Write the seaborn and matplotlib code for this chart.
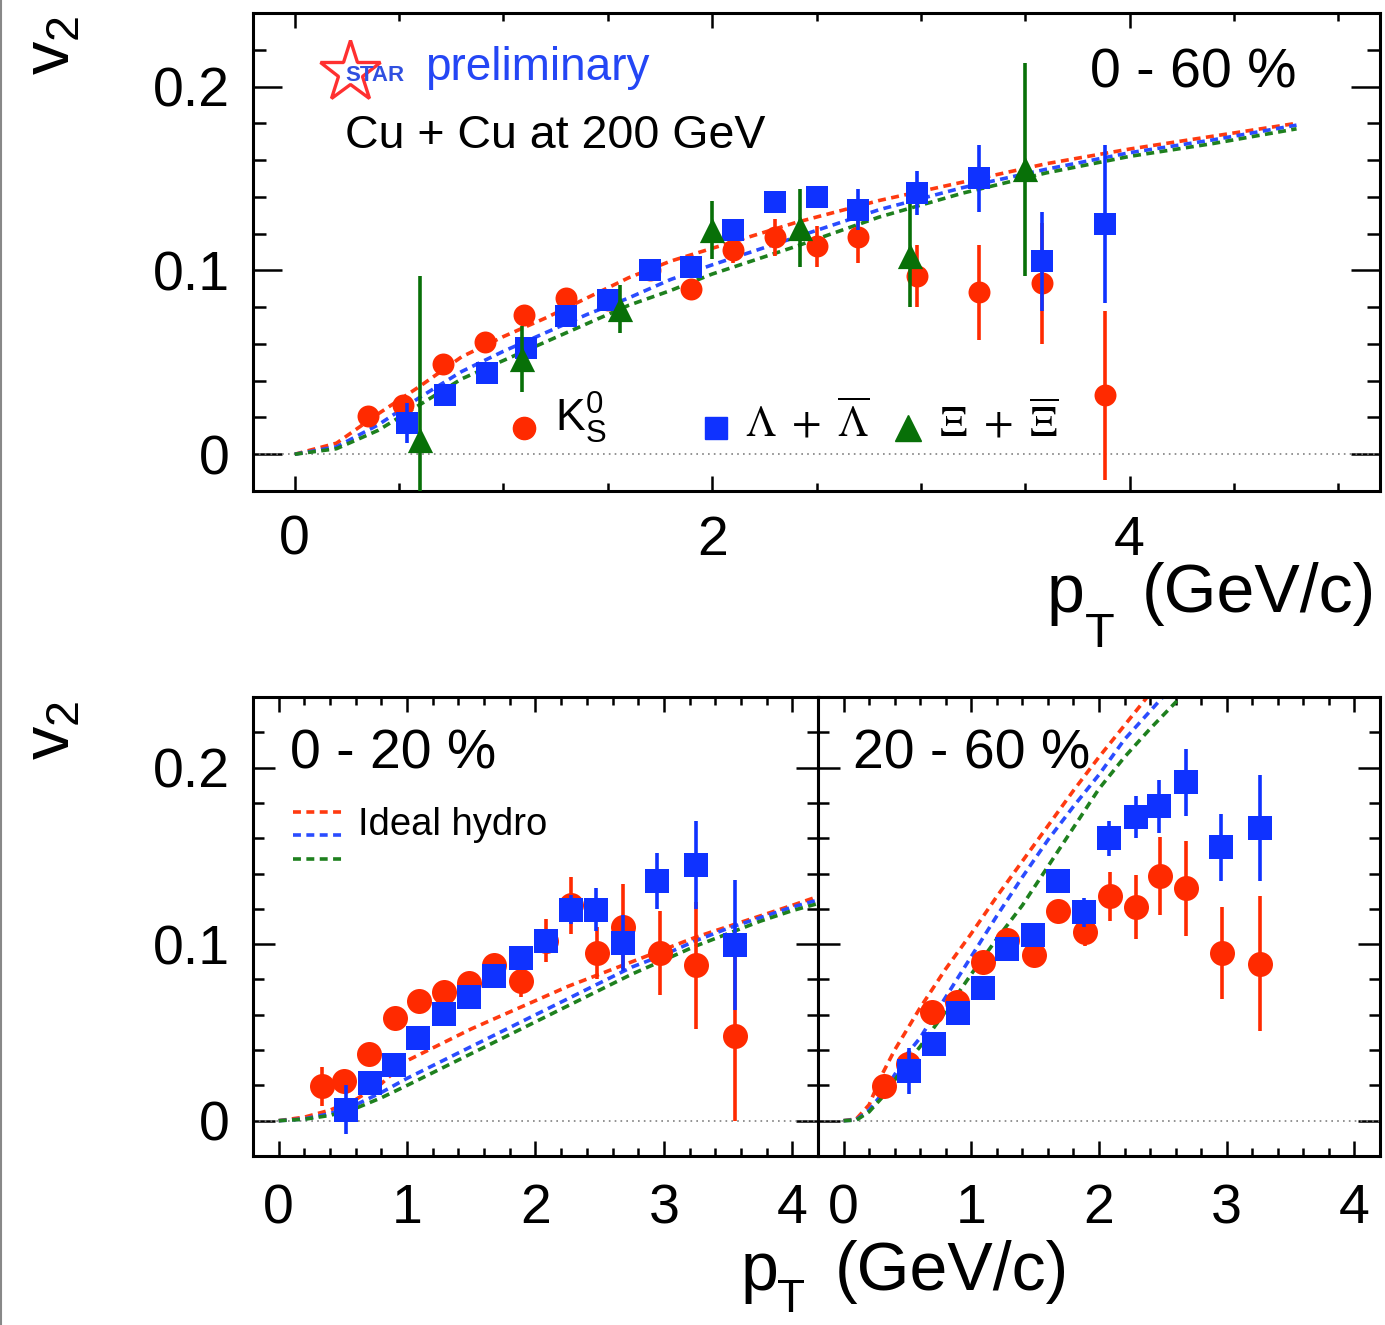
import matplotlib
matplotlib.use("Agg")
import matplotlib.pyplot as plt
import seaborn as sns
from matplotlib.ticker import MultipleLocator, FuncFormatter
from matplotlib.lines import Line2D

# ---------------- data: 0-60 % (top panel) ----------------
k0_pt_mb = [0.35, 0.52, 0.71, 0.91, 1.10, 1.30, 1.50, 1.70, 1.90, 2.10, 2.30, 2.50, 2.70, 2.98, 3.28, 3.58, 3.88]
k0_v2_mb = [0.021, 0.027, 0.049, 0.061, 0.076, 0.085, 0.084, 0.100, 0.090, 0.111, 0.118, 0.113, 0.118, 0.097, 0.088, 0.093, 0.032]
k0_err_mb = [0.004, 0.004, 0.004, 0.004, 0.004, 0.004, 0.004, 0.004, 0.005, 0.007, 0.010, 0.011, 0.014, 0.017, 0.026, 0.033, 0.046]

lam_pt_mb = [0.54, 0.72, 0.92, 1.11, 1.30, 1.50, 1.70, 1.90, 2.10, 2.30, 2.50, 2.70, 2.98, 3.28, 3.58, 3.88]
lam_v2_mb = [0.017, 0.032, 0.044, 0.058, 0.075, 0.084, 0.100, 0.102, 0.122, 0.137, 0.140, 0.133, 0.142, 0.150, 0.105, 0.125]
lam_err_mb = [0.011, 0.004, 0.004, 0.004, 0.004, 0.004, 0.004, 0.004, 0.005, 0.006, 0.006, 0.011, 0.012, 0.018, 0.027, 0.043]

xi_pt_mb = [0.60, 1.09, 1.56, 2.00, 2.42, 2.95, 3.50]
xi_v2_mb = [0.008, 0.052, 0.079, 0.122, 0.123, 0.108, 0.155]
xi_err_mb = [0.089, 0.018, 0.013, 0.016, 0.021, 0.028, 0.058]

hydro_pt_mb = [0.0, 0.2, 0.4, 0.6, 0.8, 1.0, 1.2, 1.4, 1.6, 1.8, 2.0, 2.4, 2.8, 3.2, 3.6, 4.0, 4.4, 4.8]
hydro_k0_mb = [0.0, 0.006, 0.022, 0.037, 0.053, 0.064, 0.074, 0.085, 0.096, 0.105, 0.112, 0.126, 0.138, 0.148, 0.158, 0.166, 0.173, 0.180]
hydro_lam_mb = [0.0, 0.004, 0.016, 0.031, 0.045, 0.056, 0.066, 0.076, 0.085, 0.095, 0.103, 0.118, 0.133, 0.145, 0.155, 0.164, 0.171, 0.179]
hydro_xi_mb = [0.0, 0.003, 0.013, 0.027, 0.041, 0.051, 0.061, 0.071, 0.081, 0.089, 0.098, 0.113, 0.129, 0.142, 0.153, 0.162, 0.169, 0.177]

# ---------------- data: 0-20 % (bottom left) ----------------
k0_pt_c = [0.334, 0.51, 0.70, 0.905, 1.09, 1.29, 1.48, 1.68, 1.89, 2.08, 2.28, 2.48, 2.68, 2.97, 3.25, 3.55]
k0_v2_c = [0.0195, 0.0225, 0.038, 0.058, 0.068, 0.073, 0.078, 0.088, 0.079, 0.102, 0.122, 0.095, 0.110, 0.095, 0.088, 0.048]
k0_err_c = [0.011, 0.005, 0.004, 0.004, 0.004, 0.004, 0.004, 0.005, 0.009, 0.012, 0.016, 0.015, 0.024, 0.024, 0.036, 0.048]

lam_pt_c = [0.523, 0.712, 0.90, 1.088, 1.29, 1.484, 1.68, 1.89, 2.08, 2.276, 2.47, 2.68, 2.945, 3.25, 3.556]
lam_v2_c = [0.0063, 0.0215, 0.0314, 0.047, 0.0606, 0.070, 0.082, 0.092, 0.102, 0.1196, 0.1196, 0.1006, 0.1358, 0.145, 0.0996]
lam_err_c = [0.014, 0.004, 0.004, 0.004, 0.004, 0.004, 0.004, 0.005, 0.006, 0.008, 0.012, 0.016, 0.016, 0.025, 0.037]

hydro_pt_c = [0.0, 0.2, 0.4, 0.6, 0.8, 1.0, 1.25, 1.5, 1.75, 2.0, 2.25, 2.5, 2.75, 3.0, 3.25, 3.5, 3.75, 4.0, 4.2]
hydro_k0_c = [0.0, 0.002, 0.006, 0.012, 0.021, 0.034, 0.043, 0.052, 0.060, 0.068, 0.076, 0.083, 0.090, 0.097, 0.104, 0.110, 0.116, 0.122, 0.127]
hydro_lam_c = [0.0, 0.001, 0.004, 0.009, 0.016, 0.024, 0.033, 0.042, 0.051, 0.060, 0.069, 0.078, 0.087, 0.094, 0.102, 0.109, 0.115, 0.121, 0.125]
hydro_xi_c = [0.0, 0.0008, 0.003, 0.007, 0.013, 0.020, 0.029, 0.038, 0.047, 0.056, 0.065, 0.074, 0.083, 0.091, 0.099, 0.106, 0.113, 0.119, 0.123]

# ---------------- data: 20-60 % (bottom right) ----------------
k0_pt_p = [0.318, 0.506, 0.696, 0.886, 1.094, 1.28, 1.49, 1.676, 1.89, 2.09, 2.29, 2.48, 2.68, 2.96, 3.26]
k0_v2_p = [0.0196, 0.032, 0.0615, 0.067, 0.0897, 0.1025, 0.094, 0.1187, 0.107, 0.127, 0.121, 0.1387, 0.1316, 0.0952, 0.089]
k0_err_p = [0.006, 0.005, 0.005, 0.005, 0.005, 0.005, 0.005, 0.006, 0.008, 0.014, 0.018, 0.022, 0.027, 0.026, 0.038]

lam_pt_p = [0.511, 0.705, 0.895, 1.088, 1.278, 1.486, 1.676, 1.88, 2.08, 2.29, 2.47, 2.68, 2.955, 3.26]
lam_v2_p = [0.028, 0.0434, 0.0611, 0.075, 0.0973, 0.105, 0.1358, 0.118, 0.160, 0.172, 0.178, 0.1916, 0.155, 0.166]
lam_err_p = [0.013, 0.004, 0.004, 0.004, 0.004, 0.005, 0.005, 0.008, 0.010, 0.012, 0.015, 0.019, 0.019, 0.030]

hydro_pt_p = [0.0, 0.1, 0.2, 0.3, 0.4, 0.5, 0.6, 0.8, 1.0, 1.2, 1.4, 1.6, 1.8, 2.0, 2.2, 2.4, 2.6, 2.8]
hydro_k0_p = [0.0, 0.001, 0.009, 0.026, 0.040, 0.052, 0.064, 0.086, 0.106, 0.127, 0.147, 0.167, 0.187, 0.206, 0.224, 0.242, 0.260, 0.278]
hydro_lam_p = [0.0, 0.0005, 0.006, 0.015, 0.026, 0.038, 0.047, 0.070, 0.093, 0.116, 0.138, 0.159, 0.178, 0.196, 0.216, 0.232, 0.248, 0.264]
hydro_xi_p = [0.0, 0.0003, 0.005, 0.013, 0.023, 0.033, 0.042, 0.062, 0.083, 0.103, 0.122, 0.144, 0.166, 0.188, 0.206, 0.222, 0.237, 0.252]

# ---------------- style ----------------
RED, BLUE, GREEN = "#ff2a00", "#0f32ff", "#087008"
H_RED, H_BLUE, H_GREEN = "#ff3a10", "#2a4cff", "#1e801e"
DASH = (0, (2.2, 1.5))
HLW = 2.6

sns.set_theme(style="ticks")
plt.rcParams["font.family"] = ["Liberation Sans", "DejaVu Sans"]
plt.rcParams["mathtext.fontset"] = "custom"
plt.rcParams["mathtext.rm"] = "Liberation Sans"
plt.rcParams["mathtext.it"] = "Liberation Sans:italic"
plt.rcParams["mathtext.bf"] = "Liberation Sans:bold"
plt.rcParams["mathtext.sf"] = "Liberation Sans"
plt.rcParams["axes.linewidth"] = 2.2
plt.rcParams["axes.edgecolor"] = "black"

W, H = 1385, 1325
fig = plt.figure(figsize=(13.85, 13.25), dpi=100)
ax_top = fig.add_axes([253 / W, 1 - 491 / H, (1380 - 253) / W, (491 - 13) / H])
ax_bl = fig.add_axes([253 / W, 1 - 1156 / H, (818 - 253) / W, (1156 - 697) / H])
ax_br = fig.add_axes([818 / W, 1 - 1156 / H, (1380 - 818) / W, (1156 - 697) / H])


def fmt(v, p):
    return "0" if abs(v) < 1e-9 else f"{v:g}"


def draw_hydro(ax, pt, curves):
    for vals, col in zip(curves, [H_RED, H_BLUE, H_GREEN]):
        sns.lineplot(x=pt, y=vals, ax=ax, color=col, lw=HLW, linestyle=DASH,
                     estimator=None, sort=False, legend=False, zorder=2)


def draw_points(ax, x, y, err, col, marker, size, z):
    ax.errorbar(x, y, yerr=err, fmt="none", ecolor=col, elinewidth=2.6, capsize=0, zorder=z)
    sns.scatterplot(x=x, y=y, ax=ax, color=col, marker=marker, s=size, linewidth=0,
                    legend=False, zorder=z + 0.1)


def style_axis(ax, xlim, xmaj, xmin, ylen, xlen):
    ax.set_xlim(*xlim)
    ax.set_ylim(-0.02, 0.24)
    ax.xaxis.set_major_locator(MultipleLocator(xmaj))
    ax.xaxis.set_minor_locator(MultipleLocator(xmin))
    ax.yaxis.set_major_locator(MultipleLocator(0.1))
    ax.yaxis.set_minor_locator(MultipleLocator(0.02))
    ax.xaxis.set_major_formatter(FuncFormatter(fmt))
    ax.yaxis.set_major_formatter(FuncFormatter(fmt))
    ax.tick_params(which="both", direction="in", top=True, right=True,
                   width=1.8, color="black", labelsize=40, labelcolor="black")
    ax.xaxis.set_tick_params(which="major", length=xlen[0])
    ax.xaxis.set_tick_params(which="minor", length=xlen[1])
    ax.yaxis.set_tick_params(which="major", length=ylen[0], pad=16.5)
    ax.yaxis.set_tick_params(which="minor", length=ylen[1])
    ax.set_xlabel("")
    ax.set_ylabel("")
    ax.axhline(0, color="#808080", lw=1.2, ls=(0, (1, 2.5)), zorder=1)
    for s in ax.spines.values():
        s.set_linewidth(2.2)
        s.set_color("black")


# ---------------- top panel ----------------
draw_hydro(ax_top, hydro_pt_mb, [hydro_k0_mb, hydro_lam_mb, hydro_xi_mb])
draw_points(ax_top, k0_pt_mb, k0_v2_mb, k0_err_mb, RED, "o", 250, 3)
draw_points(ax_top, lam_pt_mb, lam_v2_mb, lam_err_mb, BLUE, "s", 250, 4)
draw_points(ax_top, xi_pt_mb, xi_v2_mb, xi_err_mb, GREEN, "^", 330, 5)
style_axis(ax_top, (-0.2, 5.2), 2, 0.5, (21, 9.5), (11, 6))
ax_top.xaxis.set_tick_params(which="major", pad=17)

tr = ax_top.transAxes
ax_top.plot([0.086], [0.877], marker="*", ms=46, mfc="none", mec="#ff3030", mew=2.4,
            ls="none", transform=tr, clip_on=False)
ax_top.text(0.108, 0.870, "STAR", color="#3050e0", fontsize=16, fontweight="bold",
            ha="center", va="center", transform=tr)
ax_top.text(0.1526, 0.860, "preliminary", color="#2446f5", fontsize=33, ha="left",
            va="baseline", transform=tr)
ax_top.text(0.0816, 0.7176, "Cu + Cu at 200 GeV", color="black", fontsize=33.5, ha="left",
            va="baseline", transform=tr)
ax_top.text(0.926, 0.845, "0 - 60 %", color="black", fontsize=40, ha="right",
            va="baseline", transform=tr)

# legend (top)
ax_top.plot([0.2405], [0.1318], marker="o", ms=16, color=RED, ls="none", transform=tr)
ax_top.text(0.268, 0.1234, r"$\mathrm{K^0_S}$", fontsize=32, ha="left", va="baseline",
            transform=tr, color="black")
ax_top.plot([0.411], [0.1318], marker="s", ms=16, color=BLUE, ls="none", transform=tr)
ax_top.text(0.4366, 0.115, r"$\Lambda\ +\ \overline{\Lambda}$", fontsize=31, ha="left",
            va="baseline", transform=tr, color="black", math_fontfamily="stix")
ax_top.plot([0.581], [0.1318], marker="^", ms=19, color=GREEN, ls="none", transform=tr)
ax_top.text(0.6087, 0.115, r"$\Xi\ +\ \overline{\Xi}$", fontsize=31, ha="left",
            va="baseline", transform=tr, color="black", math_fontfamily="stix")

# ---------------- bottom left ----------------
draw_hydro(ax_bl, hydro_pt_c, [hydro_k0_c, hydro_lam_c, hydro_xi_c])
draw_points(ax_bl, k0_pt_c, k0_v2_c, k0_err_c, RED, "o", 324, 3)
draw_points(ax_bl, lam_pt_c, lam_v2_c, lam_err_c, BLUE, "s", 300, 4)
style_axis(ax_bl, (-0.2, 4.2), 1, 0.2, (16, 8), (11, 6))
ax_bl.xaxis.set_tick_params(which="major", pad=19.5)
trl = ax_bl.transAxes
ax_bl.text(0.0655, 0.845, "0 - 20 %", fontsize=40, ha="left", va="baseline",
           transform=trl, color="black")
for yy, col in zip([0.7495, 0.6993, 0.647], [H_RED, H_BLUE, H_GREEN]):
    ax_bl.plot([0.071, 0.161], [yy, yy], color=col, lw=HLW, ls=DASH, transform=trl)
ax_bl.text(0.186, 0.699, "Ideal hydro", fontsize=27.5, ha="left", va="baseline",
           transform=trl, color="black")

# ---------------- bottom right ----------------
draw_hydro(ax_br, hydro_pt_p, [hydro_k0_p, hydro_lam_p, hydro_xi_p])
draw_points(ax_br, k0_pt_p, k0_v2_p, k0_err_p, RED, "o", 324, 3)
draw_points(ax_br, lam_pt_p, lam_v2_p, lam_err_p, BLUE, "s", 300, 4)
style_axis(ax_br, (-0.2, 4.2), 1, 0.2, (16, 8), (11, 6))
ax_br.xaxis.set_tick_params(which="major", pad=19.5)
ax_br.tick_params(labelleft=False)
ax_br.text(0.062, 0.845, "20 - 60 %", fontsize=40, ha="left", va="baseline",
           transform=ax_br.transAxes, color="black")

# ---------------- axis titles ----------------
fig.text(52 / W, 1 - 45 / H, r"$\mathrm{v_2}$", rotation=90, fontsize=48,
         ha="center", va="center", color="black")
fig.text(52 / W, 1 - 730 / H, r"$\mathrm{v_2}$", rotation=90, fontsize=48,
         ha="center", va="center", color="black")


def pt_label(x_p, x_t, x_end, y_base, y_sub, sub_size):
    fig.text(x_p / W, 1 - y_base / H, "p", fontsize=49, ha="left", va="baseline", color="black")
    fig.text(x_t / W, 1 - y_sub / H, "T", fontsize=sub_size, ha="left", va="baseline",
             color="black")
    fig.text(x_end / W, 1 - y_base / H, "(GeV/c)", fontsize=49, ha="right", va="baseline",
             color="black")


pt_label(1047, 1085, 1376, 612, 647, 35)
pt_label(741, 777, 1069, 1290, 1312, 33)

fig.add_artist(Line2D([0.0008, 0.0008], [0, 1], color="#888888", lw=1.5))

fig.savefig("out.png", dpi=100, facecolor="white")
